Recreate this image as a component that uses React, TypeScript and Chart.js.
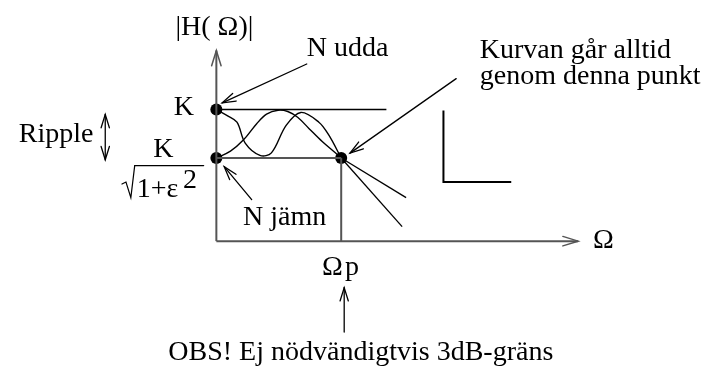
import React, { useEffect, useRef } from "react";
import { Chart, registerables } from "chart.js";

Chart.register(...registerables);

// Normalised units: Ω axis with Ω_p = 1, |H(Ω)| axis with K = 1
const xRange = [-1.685, 3.85];
const yRange = [-0.949, 1.787];

const K_LEVEL = 1;
const LOW_LEVEL = 0.632; // K / sqrt(1+ε²)
const OMEGA_P = 1;

// N odd (udda) curve
const oddX = [0, 0.087, 0.165, 0.231, 0.349, 0.441, 0.559, 0.677, 0.821, 0.9, 1];
const oddY = [1, 0.954, 0.904, 0.745, 0.652, 0.671, 0.88, 0.978, 0.904, 0.807, 0.632];
// N even (jämn) curve
const evenX = [0, 0.113, 0.218, 0.323, 0.402, 0.494, 0.572, 0.651, 0.743, 0.848, 0.953, 1];
const evenY = [0.632, 0.684, 0.77, 0.892, 0.965, 0.995, 0.985, 0.941, 0.855, 0.757, 0.671, 0.632];

// straight lines [x, y]
const yAxisLine = [[0, 0], [0, 1.449]];
const xAxisLine = [[0, 0], [2.898, 0]];
const passbandTop = [[0, K_LEVEL], [1.362, K_LEVEL]];
const passbandLow = [[0, LOW_LEVEL], [OMEGA_P, LOW_LEVEL]];
const omegaPLine = [[OMEGA_P, LOW_LEVEL], [OMEGA_P, 0]];
const rollOffA = [[OMEGA_P, LOW_LEVEL], [1.52, 0.331]];
const rollOffB = [[OMEGA_P, LOW_LEVEL], [1.488, 0.11]];
const stopbandCorner = [[1.819, 0.993], [1.819, 0.449], [2.362, 0.449]];
const dots = [[0, K_LEVEL], [0, LOW_LEVEL], [OMEGA_P, LOW_LEVEL]];

// arrows: [fromX, fromY, toX, toY, doubleHeaded]
const arrowNOdd = [0.724, 1.346, 0.047, 1.051, 0];
const arrowPoint = [1.921, 1.235, 1.071, 0.669, 0];
const arrowNEven = [0.283, 0.316, 0.063, 0.566, 0];
const arrowRipple = [-0.89, 0.618, -0.89, 0.963, 1];
const arrowObs = [1.024, -0.691, 1.024, -0.353, 0];
const axisHeads = [[0, 1.3, 0, 1.449], [2.75, 0, 2.898, 0]];

// labels: text, x, baseline y, alignment
const labelTexts = ["|H( Ω)|", "N udda", "Kurvan går alltid", "genom denna punkt", "K", "Ripple", "K", "1+ε", "2", "N jämn", "Ω", "Ω", "p", "OBS! Ej nödvändigtvis 3dB-gräns"];
const labelX = [-0.016, 0.724, 2.11, 2.11, -0.26, -1.583, -0.425, -0.638, -0.268, 0.213, 3.016, 0.929, 1.031, 1.157];
const labelY = [1.566, 1.404, 1.39, 1.191, 0.956, 0.757, 0.64, 0.338, 0.404, 0.125, -0.051, -0.257, -0.257, -0.905];
const labelAlign = ["center", "left", "left", "left", "center", "left", "center", "left", "left", "left", "left", "center", "left", "center"];

// fraction bar and root sign
const vinculum = [[-0.654, 0.574], [-0.102, 0.574]];
const rootSign = [[-0.756, 0.434], [-0.724, 0.449], [-0.685, 0.331], [-0.654, 0.574]];

const FONT = '"Liberation Serif", "Times New Roman", serif';
const toPts = (a: number[][]) => a.map(([x, y]) => ({ x, y }));

const overlay = {
  id: "overlay",
  afterDatasetsDraw(chart: any) {
    const { ctx, scales } = chart;
    const px = (v: number) => scales.x.getPixelForValue(v);
    const py = (v: number) => scales.y.getPixelForValue(v);
    ctx.save();
    ctx.strokeStyle = "#000";
    ctx.fillStyle = "#000";
    ctx.lineCap = "round";

    const head = (tx: number, ty: number, ang: number, len: number, spread: number) => {
      ctx.beginPath();
      ctx.moveTo(tx + Math.cos(ang + Math.PI - spread) * len, ty + Math.sin(ang + Math.PI - spread) * len);
      ctx.lineTo(tx, ty);
      ctx.lineTo(tx + Math.cos(ang + Math.PI + spread) * len, ty + Math.sin(ang + Math.PI + spread) * len);
      ctx.stroke();
    };

    const arrows = [arrowNOdd, arrowPoint, arrowNEven, arrowRipple, arrowObs];
    ctx.lineWidth = 1.3;
    arrows.forEach(([fx, fy, tx, ty, dbl]) => {
      const x1 = px(fx), y1 = py(fy), x2 = px(tx), y2 = py(ty);
      ctx.beginPath();
      ctx.moveTo(x1, y1);
      ctx.lineTo(x2, y2);
      ctx.stroke();
      const ang = Math.atan2(y2 - y1, x2 - x1);
      head(x2, y2, ang, 14, 0.3);
      if (dbl) head(x1, y1, ang + Math.PI, 14, 0.3);
    });

    ctx.strokeStyle = "#555";
    ctx.lineWidth = 1.5;
    axisHeads.forEach(([fx, fy, tx, ty]) => {
      const x1 = px(fx), y1 = py(fy), x2 = px(tx), y2 = py(ty);
      head(x2, y2, Math.atan2(y2 - y1, x2 - x1), 16, 0.3);
    });

    // fraction
    ctx.strokeStyle = "#000";
    ctx.lineWidth = 1.3;
    ctx.beginPath();
    ctx.moveTo(px(vinculum[0][0]), py(vinculum[0][1]));
    ctx.lineTo(px(vinculum[1][0]), py(vinculum[1][1]));
    ctx.stroke();
    ctx.beginPath();
    rootSign.forEach(([x, y], i) => (i ? ctx.lineTo(px(x), py(y)) : ctx.moveTo(px(x), py(y))));
    ctx.lineWidth = 1.2;
    ctx.stroke();

    ctx.textBaseline = "alphabetic";
    labelTexts.forEach((t, i) => {
      ctx.font = `28px ${FONT}`;
      ctx.textAlign = labelAlign[i];
      ctx.fillText(t, px(labelX[i]), py(labelY[i]));
    });
    ctx.restore();
  },
};

export default function App() {
  const ref = useRef<HTMLCanvasElement>(null);
  useEffect(() => {
    if (!ref.current) return;
    const line = (data: number[][], color: string, width: number, tension = 0) => ({
      data: toPts(data),
      showLine: true,
      borderColor: color,
      borderWidth: width,
      pointRadius: 0,
      tension,
      fill: false,
    });
    const chart = new Chart(ref.current, {
      type: "scatter",
      data: {
        datasets: [
          line(yAxisLine, "#555", 2),
          line(xAxisLine, "#555", 2),
          line(passbandTop, "#000", 1.5),
          line(passbandLow, "#555", 2),
          line(omegaPLine, "#555", 2),
          line(oddX.map((x, i) => [x, oddY[i]]), "#000", 1.4, 0.35),
          line(evenX.map((x, i) => [x, evenY[i]]), "#000", 1.4, 0.35),
          line(rollOffA, "#000", 1.3),
          line(rollOffB, "#000", 1.3),
          line(stopbandCorner, "#000", 2),
          {
            data: toPts(dots),
            showLine: false,
            pointRadius: 6,
            pointBackgroundColor: "#000",
            pointBorderColor: "#000",
            pointBorderWidth: 0,
          },
        ] as any,
      },
      options: {
        animation: false,
        responsive: true,
        maintainAspectRatio: false,
        layout: { padding: 0 },
        plugins: { legend: { display: false }, tooltip: { enabled: false } },
        events: [],
        scales: {
          x: { type: "linear", min: xRange[0], max: xRange[1], display: false },
          y: { type: "linear", min: yRange[0], max: yRange[1], display: false },
        },
      },
      plugins: [overlay],
    });
    return () => chart.destroy();
  }, []);
  return (
    <div style={{ position: "absolute", left: 0, top: 0, width: 703, height: 372, background: "#fff" }}>
      <canvas ref={ref} />
    </div>
  );
}
